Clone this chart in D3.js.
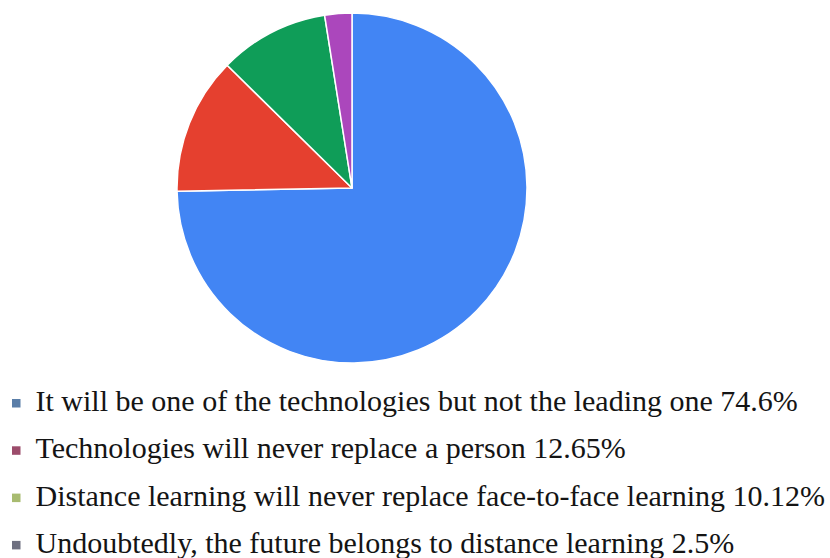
<!DOCTYPE html>
<html>
<head>
<meta charset="utf-8">
<script src="https://cdn.jsdelivr.net/npm/d3@7/dist/d3.min.js"></script>
<style>
  html, body { margin: 0; padding: 0; background: #fff; }
  svg { display: block; }
</style>
</head>
<body>
<svg id="chart" width="830" height="558"></svg>
<script>
// Survey answers and their shares (percent)
const categories = [
  "It will be one of the technologies but not the leading one",
  "Technologies will never replace a person",
  "Distance learning will never replace face-to-face learning",
  "Undoubtedly, the future belongs to distance learning"
];
const values = [74.6, 12.65, 10.12, 2.5];
const valueLabels = ["74.6%", "12.65%", "10.12%", "2.5%"];

const sliceColors = ["#4285f4", "#e5402f", "#0f9d58", "#ab47bc"];
const legendColors = ["#5a7ea8", "#9c4c6b", "#a8bb70", "#6e7080"];

const svg = d3.select("#chart");
const W = 830, H = 558;

svg.append("rect").attr("width", W).attr("height", H).attr("fill", "#fff");

// Pie, first slice starting at 12 o'clock and running clockwise
const cx = 352, cy = 188, r = 175;
const pie = d3.pie().sort(null).value(d => d)(values);
const arc = d3.arc().innerRadius(0).outerRadius(r);

svg.append("g")
  .attr("transform", `translate(${cx},${cy})`)
  .selectAll("path")
  .data(pie)
  .join("path")
  .attr("d", arc)
  .attr("fill", (d, i) => sliceColors[i])
  .attr("stroke", "#fff")
  .attr("stroke-width", 1.5)
  .attr("stroke-linejoin", "round");

// Legend below the pie
const legendX = 35.5, legendY0 = 411, legendStep = 47.3;

const items = svg.append("g")
  .selectAll("g")
  .data(categories)
  .join("g")
  .attr("transform", (d, i) => `translate(0,${legendY0 + i * legendStep})`);

items.append("rect")
  .attr("x", 12)
  .attr("y", -12)
  .attr("width", 8.5)
  .attr("height", 8.5)
  .attr("fill", (d, i) => legendColors[i]);

items.append("text")
  .attr("x", legendX)
  .attr("y", 0)
  .style("font-family", '"Liberation Serif", serif')
  .style("font-size", "30px")
  .attr("fill", "#141414")
  .text((d, i) => `${d} ${valueLabels[i]}`);
</script>
</body>
</html>
